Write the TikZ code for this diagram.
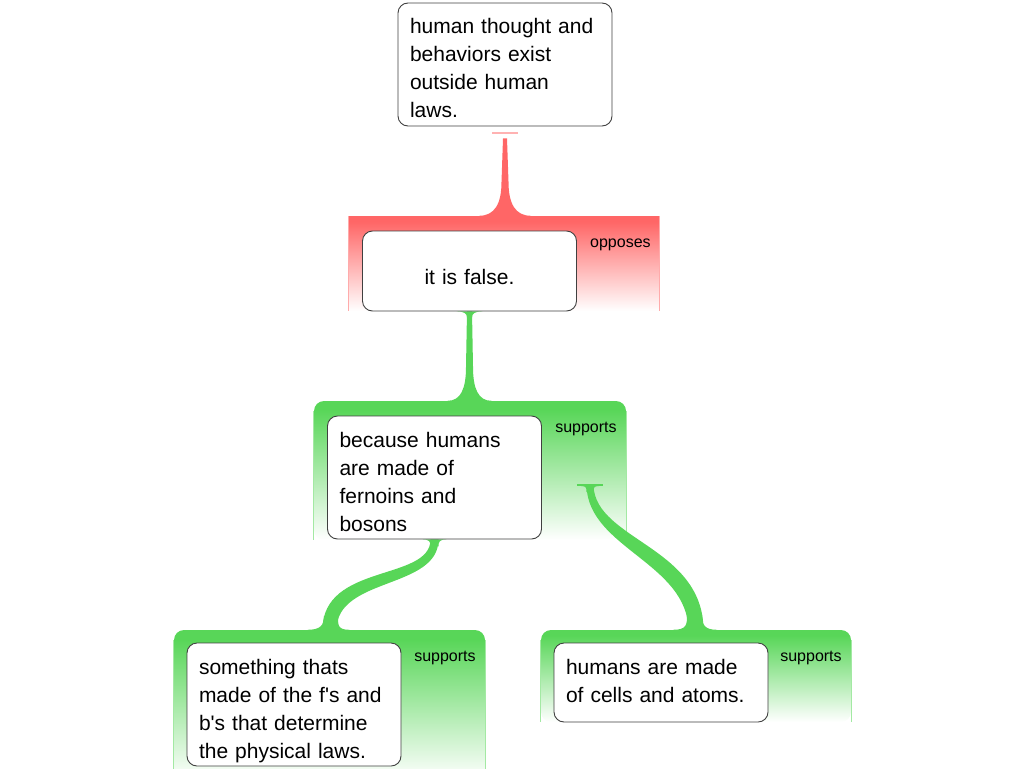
\documentclass[tikz,border=0pt]{standalone}
\usepackage{fontspec}
\setmainfont{Liberation Sans}
\usetikzlibrary{calc,backgrounds}
\definecolor{supgreen}{RGB}{88,214,88}
\definecolor{oppred}{RGB}{255,102,102}
\pgfdeclareverticalshading{supfade}{100bp}{color(0bp)=(white); color(25bp)=(white); color(72bp)=(supgreen); color(100bp)=(supgreen)}
\pgfdeclareverticalshading{oppfade}{100bp}{color(0bp)=(white); color(25bp)=(white); color(72bp)=(oppred); color(100bp)=(oppred)}
% flared end of a link: colour, point, left width, left stem, right stem, right width, height
\newcommand{\linkflare}[7]{\fill[#1, shift={(#2)}] (-#3,0) .. controls ({-0.4*#3},0) and (-#4,{-0.35*(#7)}) .. (-#4,{-(#7)}) -- (#5,{-(#7)}) .. controls (#5,{-0.35*(#7)}) and ({0.4*#6},0) .. (#6,0) -- cycle;}
\tikzset{
  claimbox/.style={draw=black!75, line width=0.9pt, fill=white, rounded corners=10pt,
    text width=190pt, inner xsep=12pt, inner ysep=16pt, text height=15pt, align=left,
    font=\fontsize{21}{28}\selectfont},
  region/.style={shade, inner sep=0pt, minimum width=310pt},
  supregion/.style={region, shading=supfade, rounded corners=10pt},
  oppregion/.style={region, shading=oppfade},
  supedge/.style={supgreen!55, line width=1.2pt},
  oppedge/.style={oppred!55, line width=1.2pt},
  tag/.style={anchor=base east, font=\fontsize{16}{18}\selectfont},
  supline/.style={supgreen},
  oppline/.style={oppred}
}
\begin{document}
\begin{tikzpicture}[x=1pt, y=-1pt]
  \useasboundingbox (0,0) rectangle (1024,768);
  % regions
  \begin{scope}[on background layer]
    \node[oppregion, minimum height=95pt] (opp) at (504,263.5) {};
    \node[supregion, minimum width=312pt, minimum height=139pt] (supA) at (470,470.5) {};
    \node[supregion, minimum width=311pt, minimum height=150pt] (supB) at (329.5,705) {};
    \node[supregion, minimum height=92pt] (supC) at (696,676) {};
    \draw[oppedge] (opp.north west) -- (opp.south west) (opp.north east) -- (opp.south east);
    \foreach \r in {supA,supB,supC}
      \draw[supedge] ($(\r.north west)+(0,10)$) -- (\r.south west) ($(\r.north east)+(0,10)$) -- (\r.south east);
  \end{scope}
  \node[tag] at ($(opp.north east)+(-5,32)$) {opposes};
  \foreach \r in {supA,supB,supC}
    \node[tag] at ($(\r.north east)+(-6,32)$) {supports};
  % claims
  \node[claimbox, text depth=76pt] (claim) at (505,64.5) {human thought and\\behaviors exist\\outside human\\laws.};
  \node[claimbox, align=center, text height=37pt, text depth=11pt] (fals) at (469.5,271) {it is false.};
  \node[claimbox, text depth=76pt] (bec) at (434.5,477.5) {because humans\\are made of\\fernoins and\\bosons};
  \node[claimbox, text depth=76pt] (sth) at (294,704.5) {something thats\\made of the f\textquotesingle s and\\b\textquotesingle s that determine\\the physical laws.};
  \node[claimbox, text depth=32pt] (hum) at (661,682.5) {humans are made\\of cells and atoms.};
  % links
  \begin{scope}[on background layer]
    \draw[oppred!50, line width=2pt] ($(claim.south)+(-13,7)$) -- ($(claim.south)+(13,7)$);
    \fill[oppline] ($(claim.south)+(-2,12)$) -- ($(claim.south |- opp.north)+(-3.5,-34)$)
      -- ($(claim.south |- opp.north)+(3.5,-34)$) -- ($(claim.south)+(2,12)$) -- cycle;
    \linkflare{oppred}{claim.south |- opp.north}{26}{3.5}{3.5}{26}{34}
    \fill[supline] ($(fals.south)+(-2.5,0)$) -- ($(fals.south |- supA.north)+(-3.5,-34)$)
      -- ($(fals.south |- supA.north)+(3.5,-34)$) -- ($(fals.south)+(2.5,0)$) -- cycle;
    \linkflare{supgreen}{fals.south}{13}{2.5}{2.5}{13}{-6}
    \linkflare{supgreen}{fals.south |- supA.north}{22}{3.5}{3.5}{22}{34}
    \fill[supline] ($(bec.south)+(-4,0)$) .. controls ($(bec.south)+(-4,42)$) and ($(supB.north)+(-7,-67)$) .. ($(supB.north)+(-7,0)$)
      -- ($(supB.north)+(7,0)$) .. controls ($(supB.north)+(7,-53)$) and ($(bec.south)+(4,50)$) .. ($(bec.south)+(4,0)$) -- cycle;
    \linkflare{supgreen}{bec.south}{12}{4}{4}{12}{-7}
    \linkflare{supgreen}{supB.north}{22}{5.5}{8.5}{20}{14}
    \coordinate (tee) at (590,486);
    \fill[supline] ($(tee)+(-3.5,0)$) .. controls ($(tee)+(-1.5,62)$) and ($(supC.north)+(-9,-67)$) .. ($(supC.north)+(-7.5,0)$)
      -- ($(supC.north)+(7.5,0)$) .. controls ($(supC.north)+(7,-83)$) and ($(tee)+(6,54)$) .. ($(tee)+(3.5,0)$) -- cycle;
    \draw[supgreen, line width=2pt] ($(tee)+(-13,-1)$) -- ($(tee)+(13,-1)$);
    \linkflare{supgreen}{tee}{9}{3.5}{3.5}{9}{-6}
    \linkflare{supgreen}{supC.north}{23}{9}{6}{21}{15}
  \end{scope}
\end{tikzpicture}
\end{document}
